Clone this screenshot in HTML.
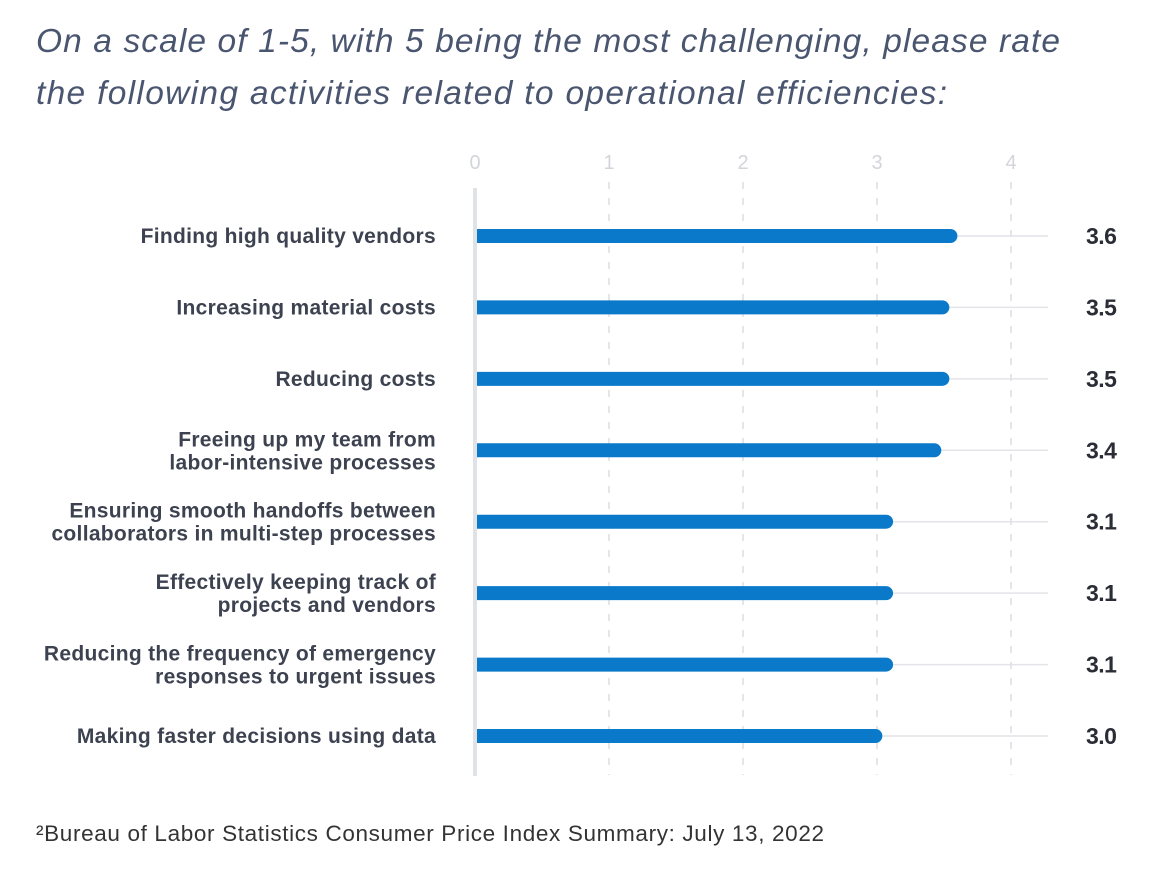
<!DOCTYPE html>
<html><head><meta charset="utf-8"><style>
body{margin:0;background:#fff;width:1166px;height:866px;overflow:hidden;font-family:"Liberation Sans",sans-serif}
</style></head><body>
<svg width="1166" height="866" xmlns="http://www.w3.org/2000/svg">
<text x="36" y="52" font-size="33.5" font-style="italic" fill="#4a5670" textLength="1024" lengthAdjust="spacing">On a scale of 1-5, with 5 being the most challenging, please rate</text>
<text x="36" y="104" font-size="33.5" font-style="italic" fill="#4a5670" textLength="911" lengthAdjust="spacing">the following activities related to operational efficiencies:</text>
<g id="grid"></g><g id="bars"></g>
<text x="36" y="841" font-size="22.5" fill="#333" textLength="788" lengthAdjust="spacing">²Bureau of Labor Statistics Consumer Price Index Summary: July 13, 2022</text>
</svg>
<script>
const categories=[["Finding high quality vendors"],["Increasing material costs"],["Reducing costs"],["Freeing up my team from","labor-intensive processes"],["Ensuring smooth handoffs between","collaborators in multi-step processes"],["Effectively keeping track of","projects and vendors"],["Reducing the frequency of emergency","responses to urgent issues"],["Making faster decisions using data"]];
const values=[3.6,3.54,3.54,3.48,3.12,3.12,3.12,3.04];
const valueLabels=["3.6","3.5","3.5","3.4","3.1","3.1","3.1","3.0"];
const ticks=[0,1,2,3,4];
const NS="http://www.w3.org/2000/svg";
const x=v=>475+v*134;
const y=i=>236+i*71.43;
function mk(t,a,p){const e=document.createElementNS(NS,t);for(const k in a)e.setAttribute(k,a[k]);p.appendChild(e);return e;}
const g=document.getElementById('grid'),b=document.getElementById('bars');
ticks.forEach(t=>{
 if(t>0){const l=mk('line',{x1:x(t),x2:x(t),y1:182,y2:775,stroke:'#dcdde2','stroke-width':1.5,'stroke-dasharray':'7 9'},g);
 
 }
 const tx=mk('text',{x:x(t),y:169,'font-size':20,fill:'#d3d5da','text-anchor':'middle'},g);tx.textContent=t;
 
 
});
const ax=mk('line',{x1:475,x2:475,y1:188,y2:776,stroke:'#e1e2e6','stroke-width':4},g);


values.forEach((v,i)=>{
 const cy=y(i);
 const tr=mk('line',{x1:477,x2:1048,y1:cy,y2:cy,stroke:'#e3e4e8','stroke-width':1.5},b);
 
 
 const w=x(v)-477;
 const p=mk('path',{d:`M477 ${cy-7}h${w-7}a7 7 0 0 1 0 14h${-(w-7)}z`,fill:'#0a79c9'},b);
 
 
 const lines=categories[i];
 lines.forEach((s,j)=>{
  const t=mk('text',{x:436,y:cy+7+(lines.length===2?(j*23-11):0),'font-size':21,'font-weight':'bold',fill:'#3d4250','text-anchor':'end','letter-spacing':'0.3'},b);
  t.textContent=s;
  
  
 });
 const vl=mk('text',{x:1086,y:cy+8,'font-size':23,'font-weight':'bold',fill:'#2a2d35','letter-spacing':'-0.5'},b);
 vl.textContent=valueLabels[i];
 
 
});
</script>
</body></html>
